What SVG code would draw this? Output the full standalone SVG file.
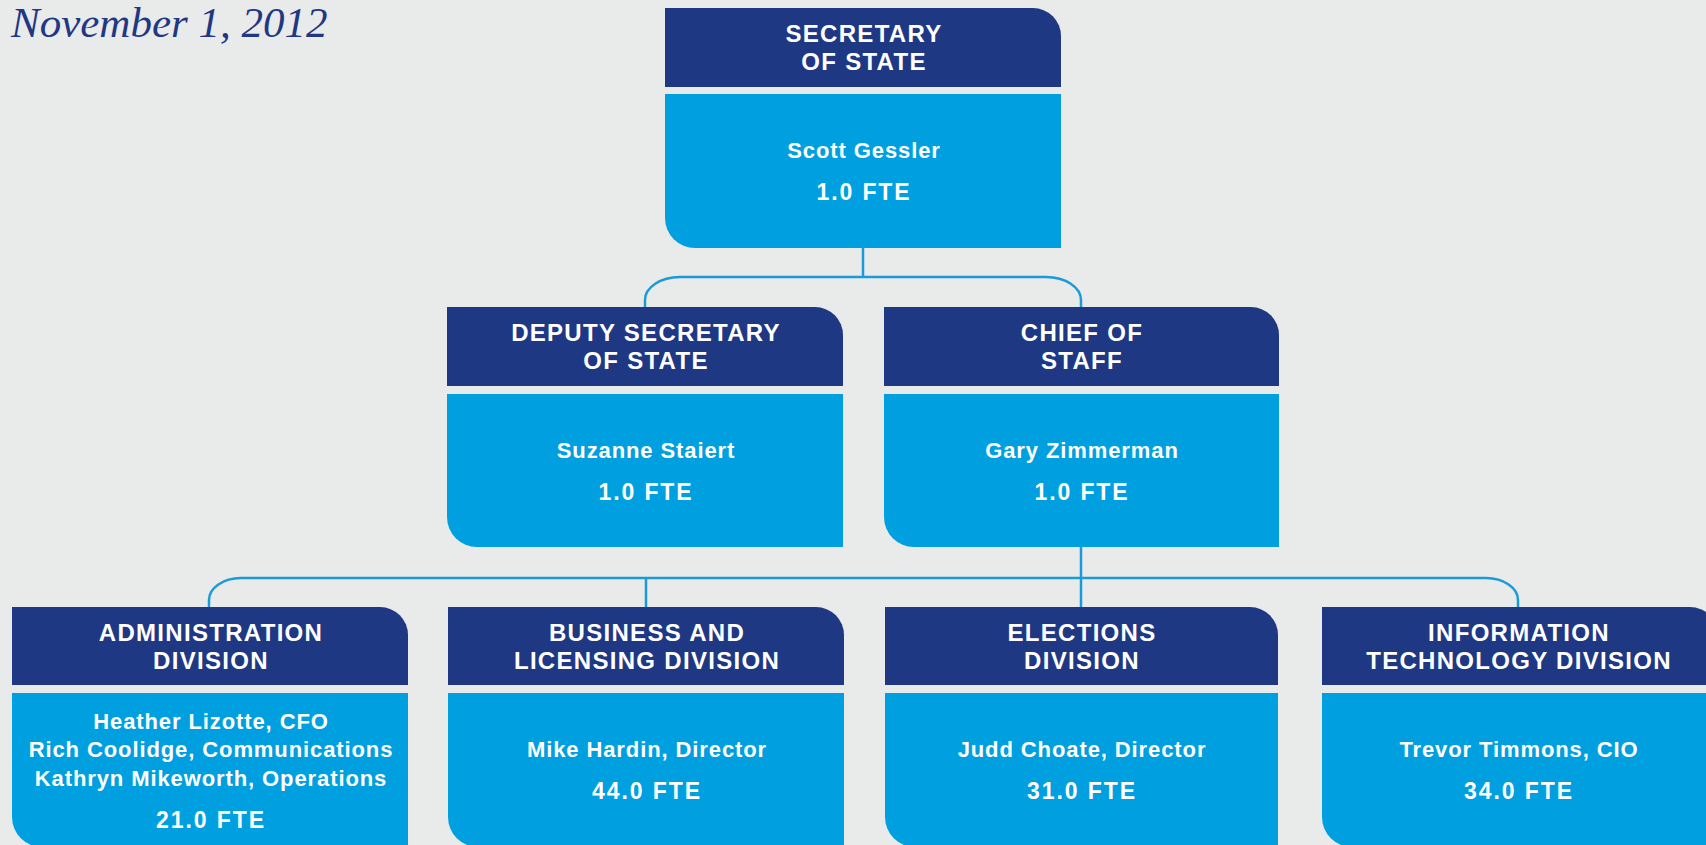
<svg xmlns="http://www.w3.org/2000/svg" width="1706" height="845" viewBox="0 0 1706 845">
<style>
.hd{fill:#1f3884}
.bd{fill:#009fe0}
.ht{font-family:"Liberation Sans",Arial,sans-serif;font-weight:bold;font-size:24px;letter-spacing:1.3px;fill:#fff;text-anchor:middle}
.bt{font-family:"Liberation Sans",Arial,sans-serif;font-weight:bold;font-size:22px;letter-spacing:0.9px;fill:#fff;text-anchor:middle}
.ft{font-family:"Liberation Sans",Arial,sans-serif;font-weight:bold;font-size:23px;letter-spacing:1.9px;fill:#fff;text-anchor:middle}
.cn{fill:none;stroke:#1b9ad8;stroke-width:2.5}
.date{font-family:"Liberation Serif","Times New Roman",serif;font-style:italic;font-size:43px;fill:#1f3884}
</style>
<rect width="1706" height="845" fill="#e9eaea"/>
<text class="date" x="11" y="37">November 1, 2012</text>

<g id="connectors">
<path class="cn" d="M863,248 V277"/>
<path class="cn" d="M645,308 V300 A35,23 0 0 1 680,277 H1046 A35,23 0 0 1 1081,300 V308"/>
<path class="cn" d="M1081,547 V608"/>
<path class="cn" d="M209,608 V600 A32,22 0 0 1 241,578 H1486 A32,22 0 0 1 1518,600 V608"/>
<path class="cn" d="M646,578 V608"/>
</g>

<g id="secretary">
<path class="hd" d="M665,87 V8 H1033 A28,28 0 0 1 1061,36 V87 Z"/>
<path class="bd" d="M665,94 H1061 V248 H695 A30,30 0 0 1 665,218 Z"/>
<text class="ht" x="864" y="42">SECRETARY</text>
<text class="ht" x="864" y="70">OF STATE</text>
<text class="bt" x="864" y="158">Scott Gessler</text>
<text class="ft" x="864" y="200">1.0 FTE</text>
</g>

<g id="deputy">
<path class="hd" d="M447,386 V307 H815 A28,28 0 0 1 843,335 V386 Z"/>
<path class="bd" d="M447,394 H843 V547 H477 A30,30 0 0 1 447,517 Z"/>
<text class="ht" x="646" y="341">DEPUTY SECRETARY</text>
<text class="ht" x="646" y="369">OF STATE</text>
<text class="bt" x="646" y="458">Suzanne Staiert</text>
<text class="ft" x="646" y="500">1.0 FTE</text>
</g>

<g id="chief">
<path class="hd" d="M884,386 V307 H1251 A28,28 0 0 1 1279,335 V386 Z"/>
<path class="bd" d="M884,394 H1279 V547 H914 A30,30 0 0 1 884,517 Z"/>
<text class="ht" x="1082" y="341">CHIEF OF</text>
<text class="ht" x="1082" y="369">STAFF</text>
<text class="bt" x="1082" y="458">Gary Zimmerman</text>
<text class="ft" x="1082" y="500">1.0 FTE</text>
</g>

<g id="administration">
<path class="hd" d="M12,685 V607 H380 A28,28 0 0 1 408,635 V685 Z"/>
<path class="bd" d="M12,693 H408 V847 H42 A30,30 0 0 1 12,817 Z"/>
<text class="ht" x="211" y="641">ADMINISTRATION</text>
<text class="ht" x="211" y="669">DIVISION</text>
<text class="bt" x="211" y="729">Heather Lizotte, CFO</text>
<text class="bt" x="211" y="757">Rich Coolidge, Communications</text>
<text class="bt" x="211" y="786">Kathryn Mikeworth, Operations</text>
<text class="ft" x="211" y="828">21.0 FTE</text>
</g>

<g id="business">
<path class="hd" d="M448,685 V607 H816 A28,28 0 0 1 844,635 V685 Z"/>
<path class="bd" d="M448,693 H844 V847 H478 A30,30 0 0 1 448,817 Z"/>
<text class="ht" x="647" y="641">BUSINESS AND</text>
<text class="ht" x="647" y="669">LICENSING DIVISION</text>
<text class="bt" x="647" y="757">Mike Hardin, Director</text>
<text class="ft" x="647" y="799">44.0 FTE</text>
</g>

<g id="elections">
<path class="hd" d="M885,685 V607 H1250 A28,28 0 0 1 1278,635 V685 Z"/>
<path class="bd" d="M885,693 H1278 V847 H915 A30,30 0 0 1 885,817 Z"/>
<text class="ht" x="1082" y="641">ELECTIONS</text>
<text class="ht" x="1082" y="669">DIVISION</text>
<text class="bt" x="1082" y="757">Judd Choate, Director</text>
<text class="ft" x="1082" y="799">31.0 FTE</text>
</g>

<g id="it">
<path class="hd" d="M1322,685 V607 H1690 A28,28 0 0 1 1718,635 V685 Z"/>
<path class="bd" d="M1322,693 H1718 V847 H1352 A30,30 0 0 1 1322,817 Z"/>
<text class="ht" x="1519" y="641">INFORMATION</text>
<text class="ht" x="1519" y="669">TECHNOLOGY DIVISION</text>
<text class="bt" x="1519" y="757">Trevor Timmons, CIO</text>
<text class="ft" x="1519" y="799">34.0 FTE</text>
</g>
</svg>
